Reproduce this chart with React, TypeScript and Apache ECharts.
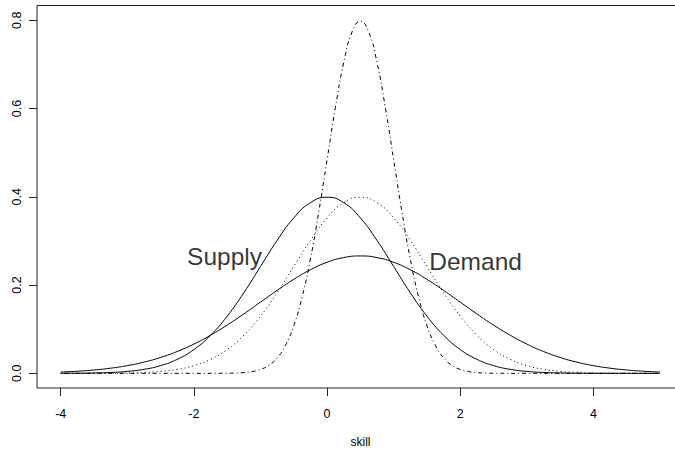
import React, { useEffect, useRef } from "react";
import * as echarts from "echarts";

// Skill grid shared by the two wide curves and the dotted curve (step 0.25)
const skill = [
  -4, -3.75, -3.5, -3.25, -3, -2.75, -2.5, -2.25, -2, -1.75, -1.5, -1.25, -1,
  -0.75, -0.5, -0.25, 0, 0.25, 0.5, 0.75, 1, 1.25, 1.5, 1.75, 2, 2.25, 2.5,
  2.75, 3, 3.25, 3.5, 3.75, 4, 4.25, 4.5, 4.75, 5,
];

// Supply: solid curve centred at 0
const supplyDensity = [
  0.00013, 0.00035, 0.00087, 0.00203, 0.00443, 0.00909, 0.01753, 0.03174,
  0.05399, 0.08628, 0.12952, 0.18265, 0.24197, 0.30114, 0.35207, 0.38667,
  0.39894, 0.38667, 0.35207, 0.30114, 0.24197, 0.18265, 0.12952, 0.08628,
  0.05399, 0.03174, 0.01753, 0.00909, 0.00443, 0.00203, 0.00087, 0.00035,
  0.00013, 0.00005, 0.00002, 0.00001, 0.0,
];

// Demand: wide solid curve centred at 0.5
const demandDensity = [
  0.00295, 0.00481, 0.0076, 0.01169, 0.01748, 0.02543, 0.03599, 0.04954,
  0.06632, 0.08635, 0.10934, 0.13467, 0.16131, 0.18795, 0.21297, 0.23471,
  0.25159, 0.26229, 0.26596, 0.26229, 0.25159, 0.23471, 0.21297, 0.18795,
  0.16131, 0.13467, 0.10934, 0.08635, 0.06632, 0.04954, 0.03599, 0.02543,
  0.01748, 0.01169, 0.0076, 0.00481, 0.00295,
];

// Dotted curve centred at 0.5
const shiftedDensity = [
  0.00002, 0.00005, 0.00013, 0.00035, 0.00087, 0.00203, 0.00443, 0.00909,
  0.01753, 0.03174, 0.05399, 0.08628, 0.12952, 0.18265, 0.24197, 0.30114,
  0.35207, 0.38667, 0.39894, 0.38667, 0.35207, 0.30114, 0.24197, 0.18265,
  0.12952, 0.08628, 0.05399, 0.03174, 0.01753, 0.00909, 0.00443, 0.00203,
  0.00087, 0.00035, 0.00013, 0.00005, 0.00002,
];

// Narrow dash-dot curve: finer grid around its peak
const narrowSkill = [
  -4, -2, -1.5, -1.375, -1.25, -1.125, -1, -0.875, -0.75, -0.625, -0.5, -0.375,
  -0.25, -0.125, 0, 0.125, 0.25, 0.375, 0.5, 0.625, 0.75, 0.875, 1, 1.125,
  1.25, 1.375, 1.5, 1.625, 1.75, 1.875, 2, 2.125, 2.25, 2.375, 2.5, 3, 5,
];
const narrowDensity = [
  0, 0.00001, 0.00027, 0.0007, 0.00174, 0.00406, 0.00886, 0.01818, 0.03506,
  0.06348, 0.10798, 0.17256, 0.25904, 0.3653, 0.48394, 0.60228, 0.70413,
  0.77334, 0.79788, 0.77334, 0.70413, 0.60228, 0.48394, 0.3653, 0.25904,
  0.17256, 0.10798, 0.06348, 0.03506, 0.01818, 0.00886, 0.00406, 0.00174,
  0.0007, 0.00027, 0.00001, 0,
];

const xTicks = [-4, -2, 0, 2, 4];
const yTicks = [0, 0.2, 0.4, 0.6, 0.8];

const curveLabels = [
  { name: "Supply", at: [-1.54, 0.264] },
  { name: "Demand", at: [2.23, 0.254] },
];

const FONT = "'Liberation Sans', Arial, Helvetica, sans-serif";

const pairs = (xs: number[], ys: number[]) => xs.map((x, i) => [x, ys[i]]);

export default function App() {
  const ref = useRef<HTMLDivElement>(null);

  useEffect(() => {
    if (!ref.current) return;
    const chart = echarts.init(ref.current, undefined, { renderer: "svg" });

    const line = (data: number[][], type: any) => ({
      type: "line",
      data,
      smooth: true,
      showSymbol: false,
      symbol: "none",
      silent: true,
      lineStyle: { color: "#000", width: 1, type },
    });

    chart.setOption({
      animation: false,
      backgroundColor: "#fff",
      grid: {
        left: 37,
        top: 5.5,
        width: 647,
        height: 383.5,
        show: true,
        borderColor: "#222",
        borderWidth: 1,
        backgroundColor: "transparent",
      },
      xAxis: {
        type: "value",
        min: -4.356,
        max: 5.36,
        name: "skill",
        nameLocation: "middle",
        nameGap: 48,
        nameTextStyle: { fontFamily: FONT, fontSize: 12, color: "#000" },
        axisLine: { show: false, onZero: false },
        splitLine: { show: false },
        axisTick: {
          show: true,
          customValues: xTicks,
          length: 8,
          lineStyle: { color: "#222", width: 1 },
        },
        axisLabel: {
          customValues: xTicks,
          margin: 19,
          fontFamily: FONT,
          fontSize: 12.5,
          color: "#000",
        },
      },
      yAxis: {
        type: "value",
        min: -0.0332,
        max: 0.8334,
        axisLine: { show: false, onZero: false },
        splitLine: { show: false },
        axisTick: {
          show: true,
          customValues: yTicks,
          length: 8,
          lineStyle: { color: "#222", width: 1 },
        },
        axisLabel: {
          customValues: yTicks,
          rotate: 90,
          margin: 14,
          fontFamily: FONT,
          fontSize: 12.5,
          color: "#000",
          formatter: (v: number) => v.toFixed(1),
        },
      },
      series: [
        line(pairs(skill, supplyDensity), "solid"),
        line(pairs(skill, demandDensity), "solid"),
        line(pairs(skill, shiftedDensity), [1, 3]),
        line(pairs(narrowSkill, narrowDensity), [1, 3, 4, 3]),
        {
          type: "scatter",
          symbolSize: 0,
          silent: true,
          itemStyle: { color: "#000" },
          data: curveLabels.map((l) => ({ name: l.name, value: l.at })),
          label: {
            show: true,
            position: "inside",
            formatter: "{b}",
            fontFamily: FONT,
            fontSize: 24.5,
            color: "#000",
            textBorderWidth: 0,
          },
        },
      ],
    });

    return () => chart.dispose();
  }, []);

  return (
    <div
      style={{
        position: "fixed",
        left: 0,
        top: 0,
        width: 675,
        height: 453,
        overflow: "hidden",
        background: "#fff",
      }}
    >
      <div ref={ref} style={{ width: 700, height: 453 }} />
    </div>
  );
}
